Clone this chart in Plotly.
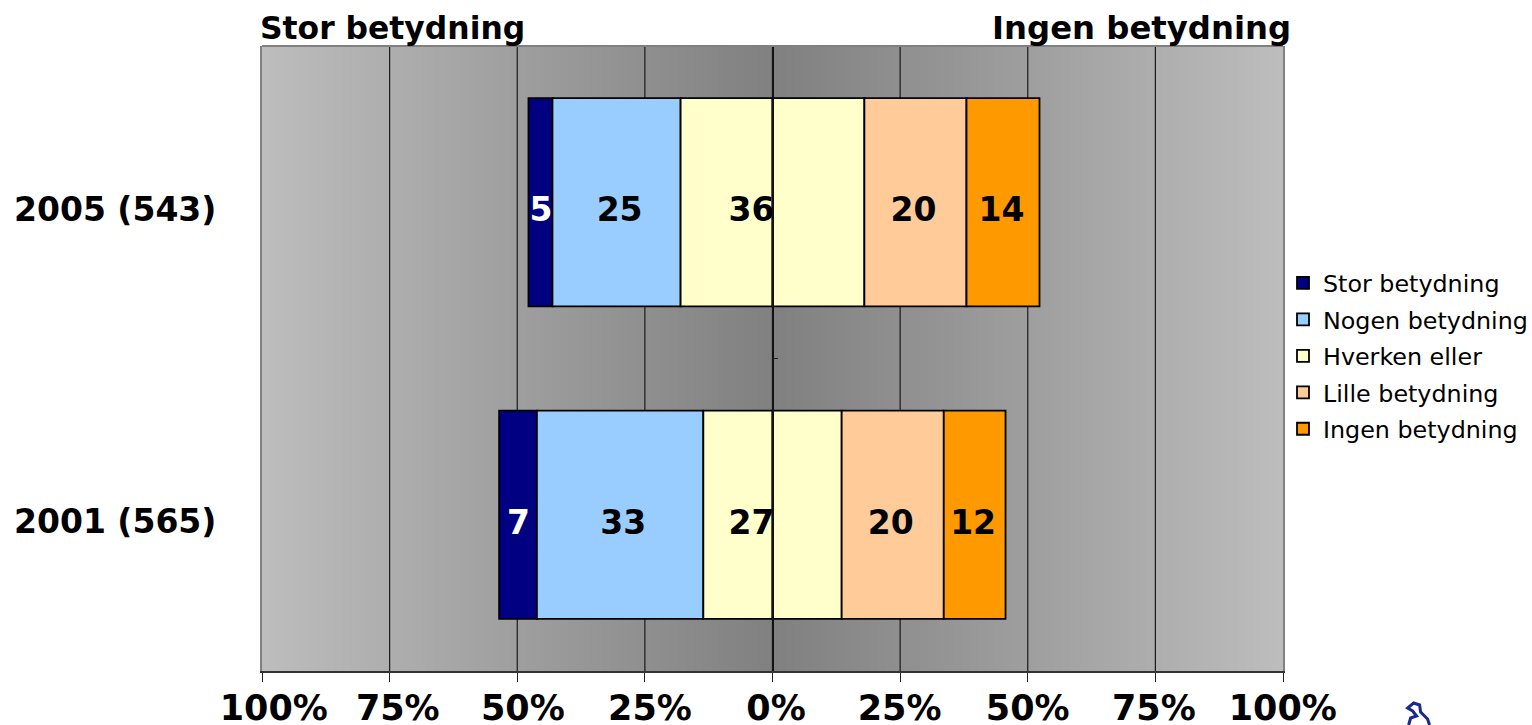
import plotly.graph_objects as go

# ---- data ----
years = ["2005 (543)", "2001 (565)"]
series = ["Stor betydning", "Nogen betydning", "Hverken eller", "Lille betydning", "Ingen betydning"]
stor = [4.7, 7.4]
nogen = [25.1, 32.6]
hverken = [36.0, 27.1]
lille = [20.0, 20.0]
ingen = [14.3, 12.1]
lab_stor = ["5", "7"]
lab_nogen = ["25", "33"]
lab_hverken = ["36", "27"]
lab_lille = ["20", "20"]
lab_ingen = ["14", "12"]
colors = ["#000080", "#99CCFF", "#FFFFCC", "#FFCC99", "#FF9900"]
x_ticks = [-100, -75, -50, -25, 0, 25, 50, 75, 100]
x_labels = ["100%", "75%", "50%", "25%", "0%", "25%", "50%", "75%", "100%"]
x_label_pos = [-97.7, -73.4, -48.9, -24.0, 0.7, 24.9, 50.0, 74.7, 99.95]  # labels do not sit exactly on their ticks
header_left = "Stor betydning"
header_right = "Ingen betydning"
grey_x = [-100, 0, 100]
grey_z = [189, 128, 189]

FONT = "DejaVu Sans"
W, H = 1532, 725
L, R, T, B = 262, 246, 46, 54
PW, PH = W - L - R, H - T - B
y_pos = [1.5, 0.5]       # category centres (top row first)
y_tick = [y - 7 / (PH / 2) for y in y_pos]   # category labels sit a little under the bar centre
y_lab = [y - 10.5 / (PH / 2) for y in y_pos]
XR = [-100, 100]
YR = [0, 2]

fig = go.Figure()

# background gradient
fig.add_trace(go.Heatmap(x=grey_x, y=YR, z=[grey_z, grey_z], zsmooth="best", showscale=False,
                         colorscale=[[0, "rgb(128,128,128)"], [1, "rgb(189,189,189)"]],
                         hoverinfo="skip", xaxis="x", yaxis="y"))
# grid lines, below the bars
gx, gy = [], []
for t in x_ticks[1:-1]:
    gx += [t, t, None]
    gy += [YR[0], YR[1], None]
fig.add_trace(go.Scatter(x=gx, y=gy, mode="lines", line=dict(color="#1a1a1a", width=1.2),
                         showlegend=False, hoverinfo="skip", xaxis="x", yaxis="y"))

# stacked bars: neutral share straddles zero
n = len(years)
left = [-(stor[i] + nogen[i] + hverken[i] / 2) for i in range(n)]
segs = [stor, nogen, hverken, lille, ingen]
cur = left[:]
bases = []
for k, s in enumerate(segs):
    bases.append(cur[:])
    cur = [cur[i] + s[i] for i in range(n)]

line = dict(color="#000000", width=1.8)
for k, s in enumerate(segs):
    if k == 2:
        half = [v / 2 for v in s]
        fig.add_trace(go.Bar(x=half, base=bases[k], y=y_pos, orientation="h", width=2 / 3,
                             marker=dict(color=colors[k], line=line), name=series[k],
                             legendgroup=series[k], hoverinfo="skip", xaxis="x2", yaxis="y2"))
        fig.add_trace(go.Bar(x=half, base=[0] * n, y=y_pos, orientation="h", width=2 / 3,
                             marker=dict(color=colors[k], line=line), name=series[k],
                             legendgroup=series[k], showlegend=False, hoverinfo="skip",
                             xaxis="x2", yaxis="y2"))
    else:
        fig.add_trace(go.Bar(x=s, base=bases[k], y=y_pos, orientation="h", width=2 / 3,
                             marker=dict(color=colors[k], line=line), name=series[k],
                             legendgroup=series[k], hoverinfo="skip", xaxis="x2", yaxis="y2"))

# value labels
labs = [lab_stor, lab_nogen, None, lab_lille, lab_ingen]
lab_nudge = [0.1, 0.6, 0, -0.4, -0.3]
for k, lab in enumerate(labs):
    if lab is None:
        continue
    fig.add_trace(go.Scatter(x=[bases[k][i] + segs[k][i] / 2 + lab_nudge[k] for i in range(n)], y=y_lab, text=lab,
                             mode="text", textposition="middle center",
                             textfont=dict(family=FONT, size=33, color="white" if k == 0 else "black",
                                           weight="bold"),
                             showlegend=False, hoverinfo="skip", xaxis="x2", yaxis="y2"))
fig.add_trace(go.Scatter(x=[0.4, 0.4], y=y_lab, text=lab_hverken, mode="text", textposition="middle left",
                         textfont=dict(family=FONT, size=33, color="black", weight="bold"),
                         showlegend=False, hoverinfo="skip", xaxis="x2", yaxis="y2"))


def px(x):
    return (x - L) / PW


def py(y):
    return 1 - (y - T) / PH


logo = [(1412, 725), (1414, 718), (1420, 716), (1416, 711), (1411, 708), (1417, 703), (1423, 705),
        (1424, 712), (1431, 719), (1433, 725)]
path = "M " + " L ".join(f"{px(a):.5f},{py(b):.5f}" for a, b in logo)

fig.update_layout(
    width=W, height=H, autosize=False,
    margin=dict(l=L, r=R, t=T, b=B, pad=0),
    paper_bgcolor="white", plot_bgcolor="#bdbdbd",
    barmode="overlay", font=dict(family=FONT, color="black"),
    xaxis=dict(range=XR, tickvals=x_ticks, showticklabels=False, ticks="outside", ticklen=9, tickwidth=1.2,
               automargin=False, tickcolor="#222222", showgrid=False, zeroline=False, showline=True,
               linecolor="#333333", linewidth=2, fixedrange=True),
    yaxis=dict(range=YR, tickvals=y_tick, ticktext=years, ticks="outside", ticklen=37, tickcolor="rgba(0,0,0,0)",
               automargin=False, showgrid=False, zeroline=False, showline=True, mirror=True, linecolor="#808080",
               linewidth=2, tickfont=dict(family=FONT, size=33, color="black", weight="bold"), fixedrange=True),
    xaxis2=dict(range=XR, overlaying="x", side="bottom", anchor="y", showgrid=False, zeroline=False, automargin=False,
                showline=False, tickvals=x_label_pos, ticktext=x_labels, ticks="", ticklabelstandoff=13,
                tickfont=dict(family=FONT, size=35, color="black", weight="bold"), fixedrange=True),
    yaxis2=dict(range=YR, overlaying="y", anchor="free", position=0.5, side="left", tickvals=[0, 1, 2],
                automargin=False, showticklabels=False, ticks="inside", ticklen=5, tickcolor="#222222",
                showgrid=False, zeroline=False, showline=True, linecolor="#111111", linewidth=1.5, fixedrange=True),
    legend=dict(xref="container", yref="container", x=1283 / W, xanchor="left", y=1 - 261 / H, yanchor="top",
                traceorder="grouped", tracegroupgap=2.5,
                font=dict(family=FONT, size=23.8, color="black"), bgcolor="rgba(0,0,0,0)", borderwidth=0,
                itemclick=False, itemdoubleclick=False),
    annotations=[
        dict(text=header_left, xref="paper", yref="paper", x=0, y=py(28), xanchor="left", yanchor="middle",
             showarrow=False, xshift=-4, font=dict(family=FONT, size=31.4, color="black", weight="bold")),
        dict(text=header_right, xref="paper", yref="paper", x=px(1296), y=py(28), xanchor="right", yanchor="middle",
             showarrow=False, font=dict(family=FONT, size=32.3, color="black", weight="bold")),
    ],
    shapes=[
        dict(type="path", path=path, xref="paper", yref="paper", line=dict(color="#1a2a8a", width=3)),
        dict(type="line", xref="paper", yref="paper", x0=0, x1=1, y0=1, y1=1, line=dict(color="#808080", width=2)),
    ],
)

fig.write_html("out.html", config={"displayModeBar": False},
               post_script="document.body.style.margin='0';document.body.style.overflow='hidden';")
